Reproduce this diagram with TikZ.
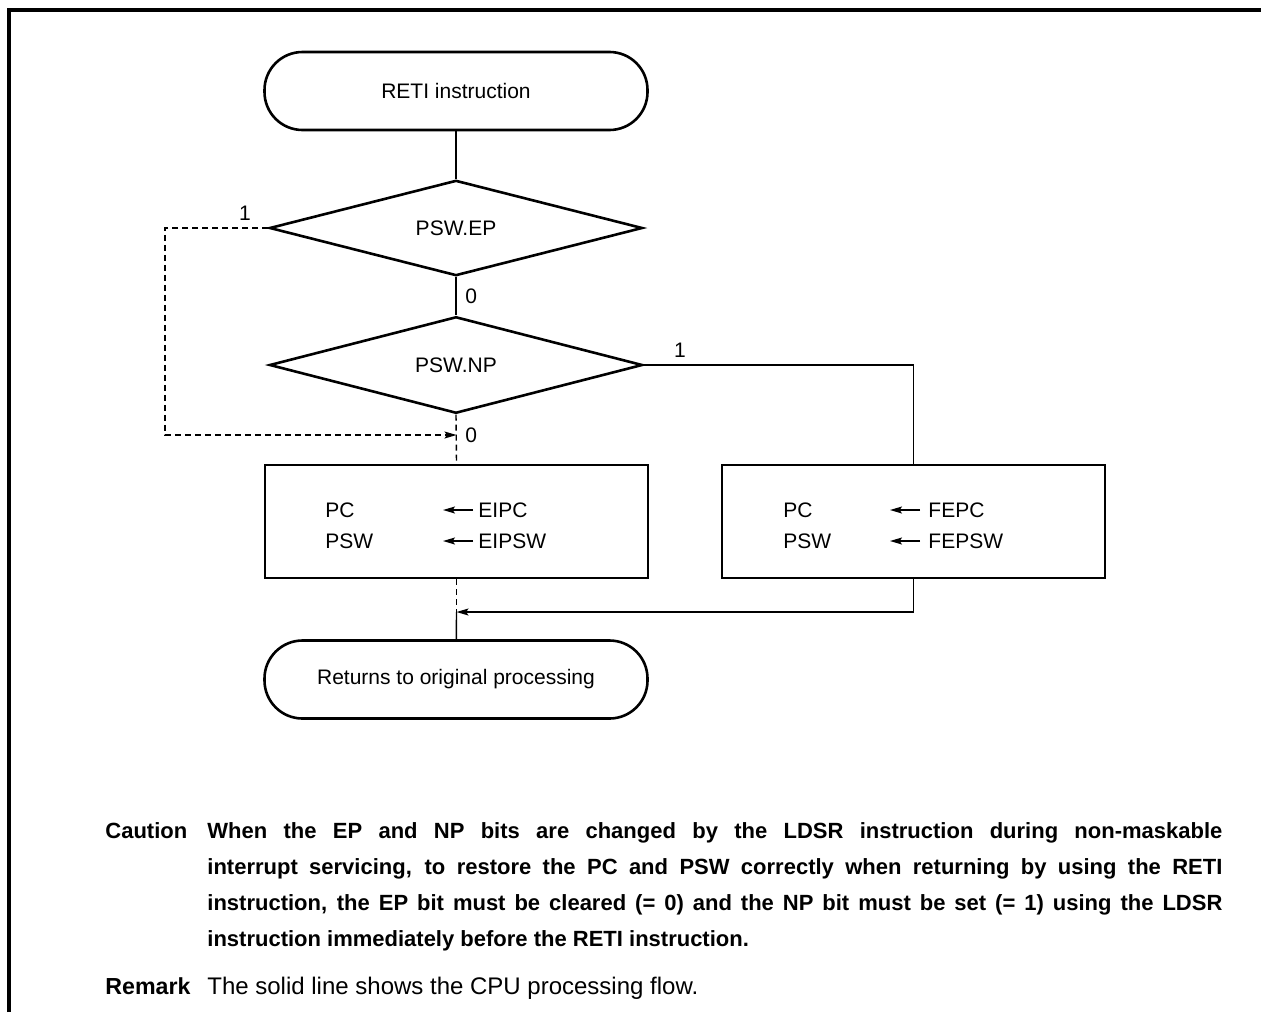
\documentclass[tikz,border=0pt]{standalone}
\usepackage{fontspec}
\setmainfont{Liberation Sans}
\usetikzlibrary{arrows.meta}
\usetikzlibrary{shapes.geometric}
\usetikzlibrary{positioning}

\tikzset{
  txt/.style={font=\fontsize{10.5}{12}\selectfont, inner sep=0pt},
  term/.style={draw, line width=1.3pt, rounded corners=19pt, minimum width=191.5pt, minimum height=39pt, txt},
  cond/.style={draw, diamond, line width=1.3pt, minimum width=186.5pt, minimum height=41pt, txt},
  proc/.style={draw, line width=1.3pt, minimum width=191.5pt, minimum height=56.5pt, inner sep=0pt},
  flow/.style={line width=0.7pt},
  flowd/.style={line width=0.7pt, dash pattern=on 3pt off 2pt},
  tip/.style={-{Stealth[length=6pt,width=3.5pt,inset=1.2pt]}},
  note/.style={inner sep=0pt, font=\fontsize{11}{18}\selectfont\bfseries},
}

\begin{document}
\begin{tikzpicture}[x=0.5pt, y=-0.5pt]
  \useasboundingbox (0,0) rectangle (1261,1012);
  % 枠
  \draw[line width=2pt] (9,1012) -- (9,10) -- (1261,10);

  % 端子・判断・処理
  \node[term] (start) at (456,91) {RETI instruction};
  \node[cond] (ep) at (456,228) {PSW.EP};
  \node[cond] (np) at (456,365) {PSW.NP};
  \node[proc] (eibox) at (456.5,521.5) {};
  \node[proc] (febox) at (913.5,521.5) {};
  \node[term] (end) at (456,679.5) {Returns to original processing};

  % 処理の中身
  \node[txt, anchor=west] (pc1) at (325,510) {PC};
  \node[txt, anchor=west] (psw1) at (325,541) {PSW};
  \node[txt, anchor=west] (eipc) at (478,510) {EIPC};
  \node[txt, anchor=west] (eipsw) at (478,541) {EIPSW};
  \node[txt, anchor=west] (pc2) at (783,510) {PC};
  \node[txt, anchor=west] (psw2) at (783,541) {PSW};
  \node[txt, anchor=west] (fepc) at (928,510) {FEPC};
  \node[txt, anchor=west] (fepsw) at (928,541) {FEPSW};
  \coordinate (ea1) at (443,510);
  \coordinate (ea2) at (443,541);
  \coordinate (fa1) at (890,510);
  \coordinate (fa2) at (890,541);
  \draw[flow, tip, shorten <=2.5pt] (eipc.west) -- (ea1);
  \draw[flow, tip, shorten <=2.5pt] (eipsw.west) -- (ea2);
  \draw[flow, tip, shorten <=4pt] (fepc.west) -- (fa1);
  \draw[flow, tip, shorten <=4pt] (fepsw.west) -- (fa2);

  % 分岐ラベル
  \node[txt, anchor=west] (ep0) at (465,296) {0};
  \node[txt] (ep1) at (245,213) {1};
  \node[txt] (np1) at (680,350) {1};
  \node[txt, anchor=west] (np0) at (465,435) {0};

  % 線
  \coordinate (lc) at (165,435);
  \coordinate (jn) at (456.5,435);
  \coordinate (mg) at (456.5,612);
  \draw[flow] (start) -- (ep);
  \draw[flow] (ep) -- (np);
  \draw[flowd] (np.south) -- (eibox.north);
  \draw[flowd, tip] (ep.west) -| (lc) -- (jn);
  \draw[flow] (np.east) -| (febox.north);
  \draw[flow, tip] (febox.south) |- (mg);
  \draw[flowd] (eibox.south) -- (mg);
  \draw[flow] (mg) -- (end);

  % 注記
  \node[note, anchor=base west] (cau) at (105,838) {Caution};
  \node[note, anchor=north west, text width=507.5pt, align=justify] (caut) at (207,822)
    {\hyphenpenalty=10000 When the EP and NP bits are changed by the LDSR instruction during non-maskable\linebreak
     interrupt servicing, to restore the PC and PSW correctly when returning by using the RETI\linebreak
     instruction, the EP bit must be cleared (= 0) and the NP bit must be set (= 1) using the LDSR\linebreak
     instruction immediately before the RETI instruction.};
  \node[note, font=\fontsize{11.6}{14}\selectfont\bfseries, anchor=base west] (rem) at (105,994) {Remark};
  \node[txt, font=\fontsize{12}{14}\selectfont, anchor=base west] (remt) at (207,994) {The solid line shows the CPU processing flow.};
\end{tikzpicture}
\end{document}
